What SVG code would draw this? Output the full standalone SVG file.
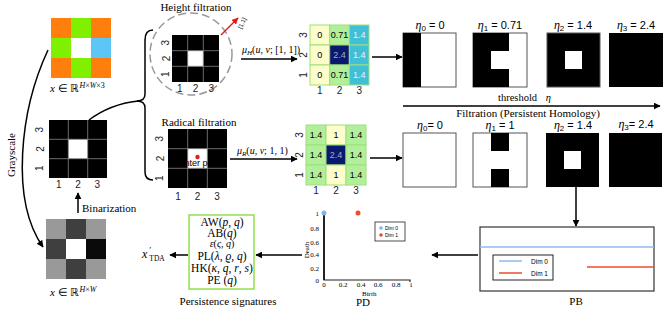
<svg xmlns="http://www.w3.org/2000/svg" width="664" height="310" viewBox="0 0 664 310">
<defs>
<style>
.serif{font-family:"Liberation Serif","Times New Roman",serif;fill:#000}
.sans{font-family:"Liberation Sans",Arial,sans-serif;fill:#000}
.ax{font-family:"Liberation Sans",Arial,sans-serif;font-size:10px;fill:#222}
.it{font-style:italic}
.bk{fill:#000}
.gl{stroke:#888;stroke-width:0.8;fill:none}
.vg{stroke:#9ee07a;stroke-width:1}
.conn{stroke:#000;stroke-width:1.5;fill:none}
.ebox{fill:#fff;stroke:#555;stroke-width:1}
.vt{font-family:"Liberation Sans",Arial,sans-serif;font-size:9px;text-anchor:middle;dominant-baseline:central}
</style>
<marker id="ah" viewBox="0 0 10 10" refX="9" refY="5" markerWidth="7" markerHeight="7" orient="auto" markerUnits="userSpaceOnUse">
<path d="M0,0 L10,5 L0,10 z" fill="#000"/>
</marker>
<marker id="ahr" viewBox="0 0 10 10" refX="9" refY="5" markerWidth="7" markerHeight="7" orient="auto" markerUnits="userSpaceOnUse">
<path d="M0,0 L10,5 L0,10 z" fill="#e02020"/>
</marker>
</defs>
<rect width="664" height="310" fill="#fff"/>

<!-- connectors -->
<g id="connectors">
<path class="conn" d="M48,50 C20,110 10,200 43,247" marker-end="url(#ah)"/>
<line class="conn" x1="78" y1="213" x2="78" y2="193" marker-end="url(#ah)"/>
<path class="conn" d="M89,120 C105,108 120,103 138,101"/>
<path class="conn" d="M153,30 Q145,30 145,40 L145,94 Q145,101 137,101 Q145,101 145,108 L145,172 Q145,180 153,180"/>
<line class="conn" x1="241" y1="59" x2="297" y2="59" marker-end="url(#ah)"/>
<line class="conn" x1="230" y1="159" x2="297" y2="159" marker-end="url(#ah)"/>
<line class="conn" x1="372" y1="57" x2="402" y2="57" marker-end="url(#ah)"/>
<line class="conn" x1="370" y1="158" x2="402" y2="158" marker-end="url(#ah)"/>
<line class="conn" x1="403" y1="106" x2="660" y2="106" marker-end="url(#ah)"/>
<line class="conn" x1="576" y1="187" x2="576" y2="226" marker-end="url(#ah)"/>
<line class="conn" x1="478" y1="255" x2="432" y2="255" marker-end="url(#ah)"/>
<line class="conn" x1="302" y1="255" x2="256" y2="255" marker-end="url(#ah)"/>
<line class="conn" x1="188" y1="255" x2="170" y2="255" marker-end="url(#ah)"/>
<text class="serif" x="11" y="155" font-size="11" text-anchor="middle" dominant-baseline="central" transform="rotate(-90 11 155)">Grayscale</text>
<text class="serif" x="82" y="212" font-size="11">Binarization</text>
<text class="serif" x="242" y="53" font-size="10"><tspan class="it">μ</tspan><tspan class="it" font-size="7" dy="2">H</tspan><tspan dy="-2">(</tspan><tspan class="it">u</tspan>, <tspan class="it">v</tspan>; [1, 1])</text>
<text class="serif" x="237" y="154" font-size="10"><tspan class="it">μ</tspan><tspan class="it" font-size="7" dy="2">R</tspan><tspan dy="-2">(</tspan><tspan class="it">u</tspan>, <tspan class="it">v</tspan>; 1, 1)</text>
<text class="serif" x="498" y="101" font-size="10.5">threshold <tspan class="it" dx="6">η</tspan></text>
<text class="serif" x="528" y="117" font-size="11" text-anchor="middle">Filtration (Persistent Homology)</text>
</g>

<!-- RGB image -->
<g id="rgb">
<rect x="51" y="18" width="20" height="20" fill="#ff7f0e"/>
<rect x="71" y="18" width="20" height="20" fill="#7ff000"/>
<rect x="91" y="18" width="20" height="20" fill="#ff7f0e"/>
<rect x="51" y="38" width="20" height="20" fill="#7ff000"/>
<rect x="71" y="38" width="20" height="20" fill="#ffffff"/>
<rect x="91" y="38" width="20" height="20" fill="#5ec6f6"/>
<rect x="51" y="58" width="20" height="20" fill="#ff7f0e"/>
<rect x="71" y="58" width="20" height="20" fill="#7ff000"/>
<rect x="91" y="58" width="20" height="20" fill="#ff7f0e"/>
<text class="serif" x="50" y="92" font-size="11"><tspan class="it">x</tspan> ∈ ℝ<tspan class="it" font-size="8" dy="-4">H</tspan><tspan font-size="8">×</tspan><tspan class="it" font-size="8">W</tspan><tspan font-size="8">×3</tspan></text>
</g>

<!-- binary image -->
<g id="binary">
<rect class="bk" x="49" y="120" width="58" height="58"/>
<rect x="68.3" y="139.3" width="19.4" height="19.4" fill="#fff"/>
<path class="gl" d="M68.3,120 V178 M87.7,120 V178 M49,139.3 H107 M49,158.7 H107"/>
<g class="ax" text-anchor="middle">
<text x="58.7" y="188">1</text><text x="78" y="188">2</text><text x="97.3" y="188">3</text>
<text x="40" y="129.7" transform="rotate(-90 40 129.7)" dominant-baseline="central">3</text>
<text x="40" y="149" transform="rotate(-90 40 149)" dominant-baseline="central">2</text>
<text x="40" y="168.3" transform="rotate(-90 40 168.3)" dominant-baseline="central">1</text>
</g>
</g>

<!-- grayscale image -->
<g id="gray">
<rect x="46" y="219" width="20" height="20" fill="#999"/>
<rect x="66" y="219" width="20" height="20" fill="#3f3f3f"/>
<rect x="86" y="219" width="20" height="20" fill="#999"/>
<rect x="46" y="239" width="20" height="20" fill="#3f3f3f"/>
<rect x="66" y="239" width="20" height="20" fill="#fff"/>
<rect x="86" y="239" width="20" height="20" fill="#0a0a0a"/>
<rect x="46" y="259" width="20" height="20" fill="#999"/>
<rect x="66" y="259" width="20" height="20" fill="#3f3f3f"/>
<rect x="86" y="259" width="20" height="20" fill="#999"/>
<text class="serif" x="50" y="296" font-size="11"><tspan class="it">x</tspan> ∈ ℝ<tspan class="it" font-size="8" dy="-4">H</tspan><tspan font-size="8">×</tspan><tspan class="it" font-size="8">W</tspan></text>
</g>

<!-- height filtration -->
<g id="height">
<text class="serif" x="196" y="11" font-size="11" text-anchor="middle">Height filtration</text>
<circle cx="191" cy="54" r="41" fill="none" stroke="#999" stroke-width="1.5" stroke-dasharray="8 4"/>
<rect class="bk" x="172" y="35" width="47" height="47"/>
<rect x="187.7" y="50.7" width="15.7" height="15.7" fill="#fff"/>
<path class="gl" d="M187.7,35 V82 M203.3,35 V82 M172,50.7 H219 M172,66.3 H219"/>
<g class="ax" text-anchor="middle">
<text x="179.8" y="92">1</text><text x="195.5" y="92">2</text><text x="211.2" y="92">3</text>
<text x="166" y="42.8" transform="rotate(-90 166 42.8)" dominant-baseline="central">3</text>
<text x="166" y="58.5" transform="rotate(-90 166 58.5)" dominant-baseline="central">2</text>
<text x="166" y="74.2" transform="rotate(-90 166 74.2)" dominant-baseline="central">1</text>
</g>
<line x1="221" y1="35" x2="238" y2="18" stroke="#e02020" stroke-width="1.5" marker-end="url(#ahr)"/>
<text class="sans" x="244" y="24" font-size="6" fill="#333" text-anchor="middle" transform="rotate(-65 244 24)">[1,1]</text>
</g>

<!-- radical filtration -->
<g id="radical">
<text class="serif" x="199" y="126" font-size="11" text-anchor="middle">Radical filtration</text>
<rect class="bk" x="168" y="129" width="59" height="59"/>
<rect x="187.7" y="148.7" width="19.7" height="19.7" fill="#fff"/>
<path class="gl" d="M187.7,129 V188 M207.3,129 V188 M168,148.7 H227 M168,168.3 H227"/>
<circle cx="197.5" cy="157" r="2.2" fill="#e02020"/>
<text class="sans" x="197.5" y="166" font-size="9" fill="#d05555" text-anchor="middle">Center point</text>
<text class="sans" x="197.5" y="178" font-size="9" fill="#d05555" text-anchor="middle">(1,1)</text>
<g class="ax" text-anchor="middle">
<text x="178" y="200">1</text><text x="197.5" y="200">2</text><text x="217" y="200">3</text>
<text x="160" y="138.8" transform="rotate(-90 160 138.8)" dominant-baseline="central">3</text>
<text x="160" y="158.5" transform="rotate(-90 160 158.5)" dominant-baseline="central">2</text>
<text x="160" y="178.2" transform="rotate(-90 160 178.2)" dominant-baseline="central">1</text>
</g>
</g>

<!-- height value grid -->
<g id="hvalues">
<rect class="vg" x="310" y="25" width="19.7" height="20" fill="#fdfecb"/>
<rect class="vg" x="329.7" y="25" width="19.7" height="20" fill="#b2ef9b"/>
<rect class="vg" x="349.3" y="25" width="19.7" height="20" fill="#41bfd6"/>
<rect class="vg" x="310" y="45" width="19.7" height="20" fill="#fdfecb"/>
<rect class="vg" x="329.7" y="45" width="19.7" height="20" fill="#0b1870"/>
<rect class="vg" x="349.3" y="45" width="19.7" height="20" fill="#41bfd6"/>
<rect class="vg" x="310" y="65" width="19.7" height="20" fill="#fdfecb"/>
<rect class="vg" x="329.7" y="65" width="19.7" height="20" fill="#b2ef9b"/>
<rect class="vg" x="349.3" y="65" width="19.7" height="20" fill="#41bfd6"/>
<text class="vt" x="319.8" y="35">0</text><text class="vt" x="339.5" y="35">0.71</text><text class="vt" x="359.2" y="35" fill="#e8f4f4">1.4</text>
<text class="vt" x="319.8" y="55">0</text><text class="vt" x="339.5" y="55" fill="#aab">2.4</text><text class="vt" x="359.2" y="55" fill="#e8f4f4">1.4</text>
<text class="vt" x="319.8" y="75">0</text><text class="vt" x="339.5" y="75">0.71</text><text class="vt" x="359.2" y="75" fill="#e8f4f4">1.4</text>
<g class="ax" text-anchor="middle">
<text x="319.8" y="94">1</text><text x="339.5" y="94">2</text><text x="359.2" y="94">3</text>
<text x="303" y="35" transform="rotate(-90 303 35)" dominant-baseline="central">3</text>
<text x="303" y="55" transform="rotate(-90 303 55)" dominant-baseline="central">2</text>
<text x="303" y="75" transform="rotate(-90 303 75)" dominant-baseline="central">1</text>
</g>
</g>

<!-- radical value grid -->
<g id="rvalues">
<rect class="vg" x="306" y="125" width="20" height="20" fill="#b2ef9b"/>
<rect class="vg" x="326" y="125" width="20" height="20" fill="#fdfecb"/>
<rect class="vg" x="346" y="125" width="20" height="20" fill="#b2ef9b"/>
<rect class="vg" x="306" y="145" width="20" height="20" fill="#b2ef9b"/>
<rect class="vg" x="326" y="145" width="20" height="20" fill="#0b1870"/>
<rect class="vg" x="346" y="145" width="20" height="20" fill="#b2ef9b"/>
<rect class="vg" x="306" y="165" width="20" height="20" fill="#b2ef9b"/>
<rect class="vg" x="326" y="165" width="20" height="20" fill="#fdfecb"/>
<rect class="vg" x="346" y="165" width="20" height="20" fill="#b2ef9b"/>
<text class="vt" x="316" y="135">1.4</text><text class="vt" x="336" y="135">1</text><text class="vt" x="356" y="135">1.4</text>
<text class="vt" x="316" y="155">1.4</text><text class="vt" x="336" y="155" fill="#aab">2.4</text><text class="vt" x="356" y="155">1.4</text>
<text class="vt" x="316" y="175">1.4</text><text class="vt" x="336" y="175">1</text><text class="vt" x="356" y="175">1.4</text>
<g class="ax" text-anchor="middle">
<text x="316" y="194">1</text><text x="336" y="194">2</text><text x="356" y="194">3</text>
<text x="299" y="135" transform="rotate(-90 299 135)" dominant-baseline="central">3</text>
<text x="299" y="155" transform="rotate(-90 299 155)" dominant-baseline="central">2</text>
<text x="299" y="175" transform="rotate(-90 299 175)" dominant-baseline="central">1</text>
</g>
</g>

<!-- height filtration stages -->
<g id="hstages">
<g class="sans" font-size="11" text-anchor="middle">
<text x="430" y="29"><tspan class="serif it" font-size="12">η</tspan><tspan font-size="8" dy="2">0</tspan><tspan dy="-2"> = 0</tspan></text>
<text x="500" y="29"><tspan class="serif it" font-size="12">η</tspan><tspan font-size="8" dy="2">1</tspan><tspan dy="-2"> = 0.71</tspan></text>
<text x="573" y="29"><tspan class="serif it" font-size="12">η</tspan><tspan font-size="8" dy="2">2</tspan><tspan dy="-2"> = 1.4</tspan></text>
<text x="636" y="29"><tspan class="serif it" font-size="12">η</tspan><tspan font-size="8" dy="2">3</tspan><tspan dy="-2"> = 2.4</tspan></text>
</g>
<rect class="ebox" x="403" y="33" width="53" height="54"/>
<rect class="bk" x="403" y="33" width="18" height="54"/>
<rect class="ebox" x="473" y="33" width="54" height="54"/>
<path class="bk" d="M473,33 H509 V51 H491 V69 H509 V87 H473 Z"/>
<rect class="bk" x="547" y="33" width="53" height="54" stroke="#555"/>
<rect x="565" y="51" width="17" height="18" fill="#fff"/>
<rect class="bk" x="609" y="33" width="54" height="54"/>
</g>

<!-- radical filtration stages -->
<g id="rstages">
<g class="sans" font-size="11" text-anchor="middle">
<text x="430" y="129"><tspan class="serif it" font-size="12">η</tspan><tspan font-size="8" dy="2">0</tspan><tspan dy="-2">= 0</tspan></text>
<text x="500" y="129"><tspan class="serif it" font-size="12">η</tspan><tspan font-size="8" dy="2">1</tspan><tspan dy="-2"> = 1</tspan></text>
<text x="573" y="129"><tspan class="serif it" font-size="12">η</tspan><tspan font-size="8" dy="2">2</tspan><tspan dy="-2"> = 1.4</tspan></text>
<text x="636" y="128"><tspan class="serif it" font-size="12">η</tspan><tspan font-size="8" dy="2">3</tspan><tspan dy="-2">= 2.4</tspan></text>
</g>
<rect class="ebox" x="403" y="133" width="53" height="54"/>
<rect class="ebox" x="473" y="133" width="54" height="54"/>
<rect class="bk" x="491" y="133" width="18" height="18"/>
<rect class="bk" x="491" y="169" width="18" height="18"/>
<rect class="bk" x="546" y="133" width="53" height="54"/>
<rect x="564" y="151" width="17" height="18" fill="#fff"/>
<rect class="bk" x="609" y="133" width="53" height="54"/>
</g>

<!-- persistence barcode -->
<g id="pb">
<rect x="480" y="227" width="174" height="64" fill="#fff" stroke="#333" stroke-width="1.2"/>
<line x1="480" y1="247" x2="654" y2="247" stroke="#8fb8f0" stroke-width="1.5"/>
<line x1="587" y1="267" x2="654" y2="267" stroke="#f04a30" stroke-width="1.5"/>
<rect x="493" y="255" width="60" height="25" fill="#fff" stroke="#222" stroke-width="1"/>
<line x1="499" y1="261" x2="522" y2="261" stroke="#8fb8f0" stroke-width="1.5"/>
<line x1="499" y1="273" x2="522" y2="273" stroke="#f04a30" stroke-width="1.5"/>
<text class="sans" x="531" y="263.5" font-size="6.5">Dim 0</text>
<text class="sans" x="531" y="275.5" font-size="6.5">Dim 1</text>
<text class="serif" x="576" y="305" font-size="11" text-anchor="middle">PB</text>
</g>

<!-- persistence diagram -->
<g id="pd">
<path d="M324,213 V280 H410 V282" fill="none" stroke="#222" stroke-width="1.2"/>
<line x1="324" y1="213" x2="324" y2="280" stroke="#222" stroke-width="2"/>
<g class="serif" font-size="7" fill="#333">
<g text-anchor="end">
<text x="319" y="215.5">1</text><text x="319" y="230.5">0.8</text><text x="319" y="244.5">0.6</text>
<text x="319" y="256.5">0.4</text><text x="319" y="270.5">0.2</text><text x="319" y="282.5">0</text>
</g>
<g text-anchor="middle">
<text x="324" y="287">0</text><text x="343" y="287">0.2</text><text x="361" y="287">0.4</text>
<text x="378" y="287">0.6</text><text x="396" y="287">0.8</text><text x="411" y="287">1</text>
</g>
<text x="307" y="250" text-anchor="middle" transform="rotate(-90 307 250)" dominant-baseline="central">Death</text>
<text x="362" y="295.5">Birth</text>
</g>
<circle cx="324" cy="213" r="2.5" fill="#7fb4ee"/>
<circle cx="358" cy="213" r="2.5" fill="#f04a30"/>
<rect x="375" y="222" width="30" height="19" fill="#fff" stroke="#222" stroke-width="0.8"/>
<circle cx="381" cy="228" r="1.8" fill="#7fb4ee"/>
<circle cx="381" cy="235" r="1.8" fill="#f04a30"/>
<text class="sans" x="385" y="230" font-size="5">Dim 0</text>
<text class="sans" x="385" y="237" font-size="5">Dim 1</text>
<text class="serif" x="363" y="306" font-size="11" text-anchor="middle">PD</text>
</g>

<!-- persistence signatures -->
<g id="signatures">
<rect x="189" y="215" width="65" height="74" fill="#fff" stroke="#93e04c" stroke-width="1.5"/>
<g class="serif" font-size="11.5" text-anchor="middle">
<text x="222" y="226">AW(<tspan class="it">p</tspan>, <tspan class="it">q</tspan>)</text>
<text x="222" y="237">AB(<tspan class="it">q</tspan>)</text>
<text x="222" y="247" font-size="10"><tspan class="it">ε</tspan>(<tspan class="it">ς</tspan>, <tspan class="it">q</tspan>)</text>
<text x="222" y="260">PL(<tspan class="it">λ</tspan>, <tspan class="it">ϱ</tspan>, <tspan class="it">q</tspan>)</text>
<text x="222" y="272">HK(<tspan class="it">κ</tspan>, <tspan class="it">q</tspan>, <tspan class="it">r</tspan>, <tspan class="it">s</tspan>)</text>
<text x="222" y="284">PE (<tspan class="it">q</tspan>)</text>
</g>
<text class="serif" x="228" y="305" font-size="11" text-anchor="middle">Persistence signatures</text>
</g>

<!-- output -->
<g id="output">
<text class="serif" x="142" y="258" font-size="12"><tspan class="it">x</tspan><tspan font-size="9" dx="2" dy="-5">′</tspan><tspan font-size="7.5" dx="-2" dy="8">TDA</tspan></text>
</g>
</svg>
